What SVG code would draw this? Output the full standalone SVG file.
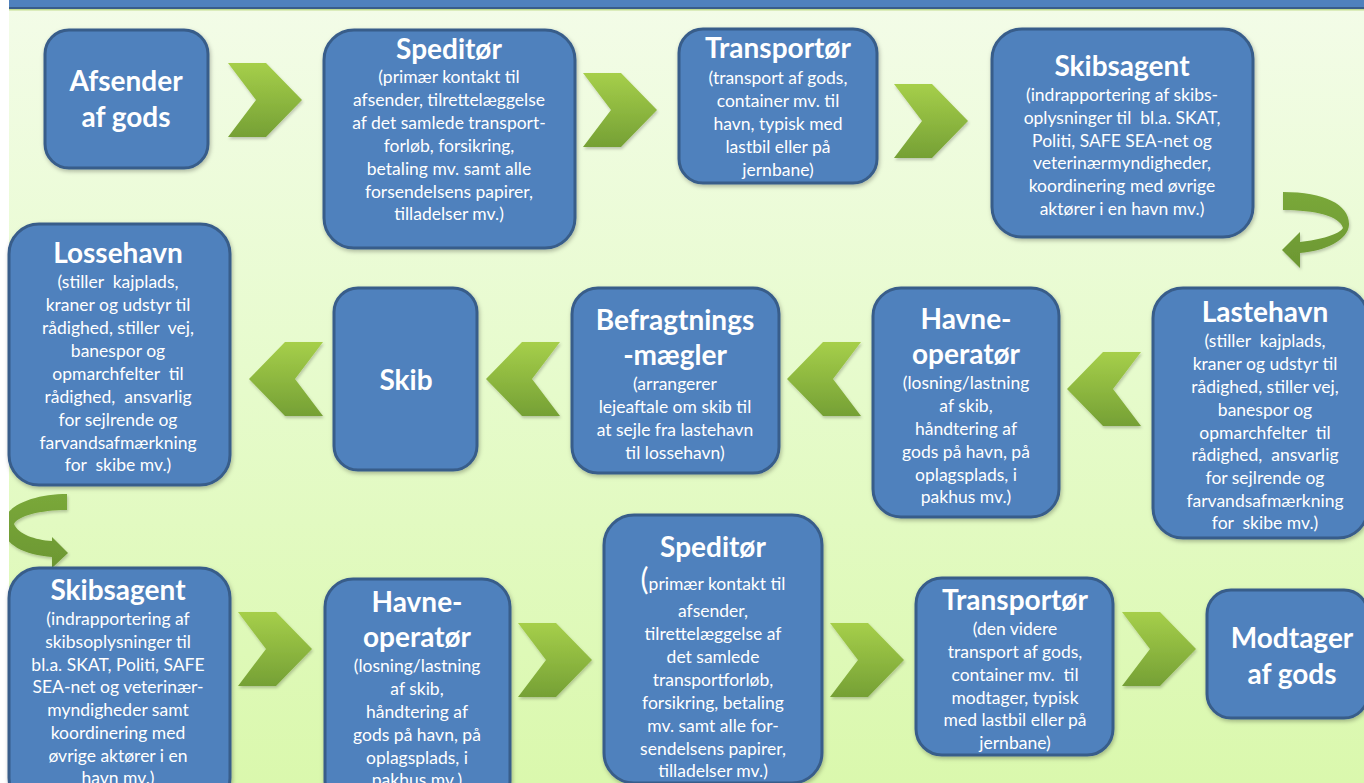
<svg xmlns="http://www.w3.org/2000/svg" width="1364" height="783" viewBox="0 0 1364 783" xml:space="preserve">
<defs>
<linearGradient id="bg" x1="0" y1="0" x2="0" y2="1">
<stop offset="0" stop-color="#f3fce8"/>
<stop offset="0.5" stop-color="#e6fbcb"/>
<stop offset="1" stop-color="#daf8ad"/>
</linearGradient>
<linearGradient id="chev" x1="0" y1="0" x2="0" y2="1">
<stop offset="0" stop-color="#a6cf4a"/>
<stop offset="1" stop-color="#75a035"/>
</linearGradient>
<linearGradient id="curve" x1="0" y1="0" x2="0" y2="1">
<stop offset="0" stop-color="#7aa83a"/>
<stop offset="1" stop-color="#6c9732"/>
</linearGradient>
<filter id="sh" x="-10%" y="-10%" width="125%" height="125%">
<feDropShadow dx="1" dy="2" stdDeviation="2" flood-color="#000" flood-opacity="0.28"/>
</filter>
<filter id="csh" x="-20%" y="-20%" width="150%" height="150%">
<feDropShadow dx="1" dy="2" stdDeviation="1.5" flood-color="#000" flood-opacity="0.22"/>
</filter>
<path id="rch" d="M0,0 L38,0 L74,37 L38,74 L0,74 L28,37 Z"/>
<path id="lch" d="M74,0 L36,0 L0,37 L36,74 L74,74 L46,37 Z"/>
</defs>
<style>
.box{fill:#4f81bd;stroke:#385d8a;stroke-width:3;filter:url(#sh)}
.t{font-family:Lato,"Open Sans","DejaVu Sans",sans-serif;font-weight:bold;font-size:28px;fill:#fff;text-anchor:middle}
.tb{font-family:Lato,"Open Sans","DejaVu Sans",sans-serif;font-weight:bold;font-size:28px;fill:#fff;text-anchor:middle}
.b{font-family:Lato,"Open Sans","DejaVu Sans",sans-serif;font-size:17.5px;fill:#fff;text-anchor:middle;white-space:pre}
.ch{fill:url(#chev);filter:url(#csh)}
.cv{fill:url(#curve);filter:url(#csh)}
</style>
<rect x="0" y="0" width="1364" height="783" fill="#ffffff"/>
<rect x="9" y="0" width="1355" height="783" fill="url(#bg)"/>
<rect x="9" y="0" width="1355" height="7" fill="#4f81bd"/>
<rect x="9" y="7" width="1355" height="2" fill="#385d8a"/>
<rect x="9" y="9" width="1355" height="1.5" fill="#c3dc90"/>
<g id="connectors">
<use href="#rch" class="ch" x="228" y="63"/>
<use href="#rch" class="ch" x="583" y="73"/>
<use href="#rch" class="ch" x="894" y="84"/>
<use href="#lch" class="ch" x="1067" y="352"/>
<use href="#lch" class="ch" x="787" y="342"/>
<use href="#lch" class="ch" x="486" y="342"/>
<use href="#lch" class="ch" x="249" y="342"/>
<use href="#rch" class="ch" x="238" y="612"/>
<use href="#rch" class="ch" x="518" y="623"/>
<use href="#rch" class="ch" x="830" y="623"/>
<use href="#rch" class="ch" x="1122" y="612"/>
<path class="cv" d="M1283,192 C1325,192 1350,205 1349,225 C1348,240 1325,251 1300,253 L1300,268 L1282,250 L1300,232 L1300,242 C1320,240 1340,234 1343,228 C1340,216 1315,210 1283,210 Z"/>
<path class="cv" d="M67,494 L67,510 C40,510 18,516 14,524 C18,534 35,540 52,541 L52,537 L68,553 L52,568 L52,557 C25,555 3,545 3,526 C3,505 35,494 67,494 Z"/>
</g>
<rect x="0" y="480" width="9" height="100" fill="#ffffff"/>
<g id="afsender">
<rect class="box" x="45" y="30" width="163" height="138" rx="24"/>
<text class="tb" x="126" y="91">Afsender</text>
<text class="tb" x="126" y="127">af gods</text>
</g>
<g id="speditor1">
<rect class="box" x="324" y="30" width="251" height="218" rx="30"/>
<text class="t" x="449" y="59">Speditør</text>
<text class="b" x="449" y="83">(primær kontakt til</text>
<text class="b" x="449" y="106">afsender, tilrettelæggelse</text>
<text class="b" x="449" y="129">af det samlede transport-</text>
<text class="b" x="449" y="152">forløb, forsikring,</text>
<text class="b" x="449" y="175">betaling mv. samt alle</text>
<text class="b" x="449" y="198">forsendelsens papirer,</text>
<text class="b" x="449" y="220">tilladelser mv.)</text>
</g>
<g id="transportor1">
<rect class="box" x="679" y="29" width="198" height="154" rx="24"/>
<text class="t" x="778" y="58">Transportør</text>
<text class="b" x="778" y="84">(transport af gods,</text>
<text class="b" x="778" y="107">container mv. til</text>
<text class="b" x="778" y="130">havn, typisk med</text>
<text class="b" x="778" y="153">lastbil eller på</text>
<text class="b" x="778" y="176">jernbane)</text>
</g>
<g id="skibsagent1">
<rect class="box" x="992" y="29" width="261" height="208" rx="30"/>
<text class="t" x="1122" y="76">Skibsagent</text>
<text class="b" x="1122" y="101">(indrapportering af skibs-</text>
<text class="b" x="1122" y="124">oplysninger til  bl.a. SKAT,</text>
<text class="b" x="1122" y="147">Politi, SAFE SEA-net og</text>
<text class="b" x="1122" y="169">veterinærmyndigheder,</text>
<text class="b" x="1122" y="192">koordinering med øvrige</text>
<text class="b" x="1122" y="215">aktører i en havn mv.)</text>
</g>
<g id="lossehavn">
<rect class="box" x="9" y="224" width="221" height="261" rx="30"/>
<text class="t" x="118" y="263">Lossehavn</text>
<text class="b" x="118" y="288">(stiller  kajplads,</text>
<text class="b" x="118" y="311">kraner og udstyr til</text>
<text class="b" x="118" y="334">rådighed, stiller  vej,</text>
<text class="b" x="118" y="357">banespor og</text>
<text class="b" x="118" y="380">opmarchfelter  til</text>
<text class="b" x="118" y="403">rådighed,  ansvarlig</text>
<text class="b" x="118" y="426">for sejlrende og</text>
<text class="b" x="118" y="449">farvandsafmærkning</text>
<text class="b" x="118" y="471">for  skibe mv.)</text>
</g>
<g id="skib">
<rect class="box" x="334" y="288" width="143" height="182" rx="24"/>
<text class="tb" x="406" y="390">Skib</text>
</g>
<g id="befragtningsmaegler">
<rect class="box" x="572" y="288" width="207" height="185" rx="26"/>
<text class="t" x="675" y="330">Befragtnings</text>
<text class="t" x="675" y="365">-mægler</text>
<text class="b" x="675" y="390">(arrangerer</text>
<text class="b" x="675" y="413">lejeaftale om skib til</text>
<text class="b" x="675" y="436">at sejle fra lastehavn</text>
<text class="b" x="675" y="459">til lossehavn)</text>
</g>
<g id="havneoperator1">
<rect class="box" x="873" y="288" width="186" height="229" rx="28"/>
<text class="t" x="966" y="329">Havne-</text>
<text class="t" x="966" y="364">operatør</text>
<text class="b" x="966" y="389">(losning/lastning</text>
<text class="b" x="966" y="412">af skib,</text>
<text class="b" x="966" y="435">håndtering af</text>
<text class="b" x="966" y="458">gods på havn, på</text>
<text class="b" x="966" y="481">oplagsplads, i</text>
<text class="b" x="966" y="503">pakhus mv.)</text>
</g>
<g id="lastehavn">
<rect class="box" x="1153" y="288" width="215" height="250" rx="30"/>
<text class="t" x="1265" y="322">Lastehavn</text>
<text class="b" x="1265" y="347">(stiller  kajplads,</text>
<text class="b" x="1265" y="370">kraner og udstyr til</text>
<text class="b" x="1265" y="393">rådighed, stiller vej,</text>
<text class="b" x="1265" y="416">banespor og</text>
<text class="b" x="1265" y="439">opmarchfelter  til</text>
<text class="b" x="1265" y="461">rådighed,  ansvarlig</text>
<text class="b" x="1265" y="484">for sejlrende og</text>
<text class="b" x="1265" y="507">farvandsafmærkning</text>
<text class="b" x="1265" y="529">for  skibe mv.)</text>
</g>
<g id="skibsagent2">
<rect class="box" x="9" y="568" width="221" height="240" rx="30"/>
<text class="t" x="118" y="600">Skibsagent</text>
<text class="b" x="118" y="625">(indrapportering af</text>
<text class="b" x="118" y="648">skibsoplysninger til</text>
<text class="b" x="118" y="671">bl.a. SKAT, Politi, SAFE</text>
<text class="b" x="118" y="693">SEA-net og veterinær-</text>
<text class="b" x="118" y="716">myndigheder samt</text>
<text class="b" x="118" y="739">koordinering med</text>
<text class="b" x="118" y="762">øvrige aktører i en</text>
<text class="b" x="118" y="784">havn mv.)</text>
</g>
<g id="havneoperator2">
<rect class="box" x="325" y="579" width="185" height="230" rx="28"/>
<text class="t" x="417" y="612">Havne-</text>
<text class="t" x="417" y="647">operatør</text>
<text class="b" x="417" y="672">(losning/lastning</text>
<text class="b" x="417" y="695">af skib,</text>
<text class="b" x="417" y="718">håndtering af</text>
<text class="b" x="417" y="741">gods på havn, på</text>
<text class="b" x="417" y="764">oplagsplads, i</text>
<text class="b" x="417" y="786">pakhus mv.)</text>
</g>
<g id="speditor2">
<rect class="box" x="604" y="515" width="218" height="268" rx="30"/>
<text class="t" x="713" y="557">Speditør</text>
<text class="b" x="713" y="590"><tspan font-size="30px">(</tspan>primær kontakt til</text>
<text class="b" x="713" y="617">afsender,</text>
<text class="b" x="713" y="640">tilrettelæggelse af</text>
<text class="b" x="713" y="663">det samlede</text>
<text class="b" x="713" y="686">transportforløb,</text>
<text class="b" x="713" y="709">forsikring, betaling</text>
<text class="b" x="713" y="732">mv. samt alle for-</text>
<text class="b" x="713" y="755">sendelsens papirer,</text>
<text class="b" x="713" y="777">tilladelser mv.)</text>
</g>
<g id="transportor2">
<rect class="box" x="916" y="578" width="197" height="177" rx="26"/>
<text class="t" x="1015" y="610">Transportør</text>
<text class="b" x="1015" y="635">(den videre</text>
<text class="b" x="1015" y="658">transport af gods,</text>
<text class="b" x="1015" y="681">container mv.  til</text>
<text class="b" x="1015" y="704">modtager, typisk</text>
<text class="b" x="1015" y="726">med lastbil eller på</text>
<text class="b" x="1015" y="749">jernbane)</text>
</g>
<g id="modtager">
<rect class="box" x="1207" y="590" width="161" height="128" rx="24"/>
<text class="tb" x="1292" y="648">Modtager</text>
<text class="tb" x="1292" y="684">af gods</text>
</g>
</svg>
